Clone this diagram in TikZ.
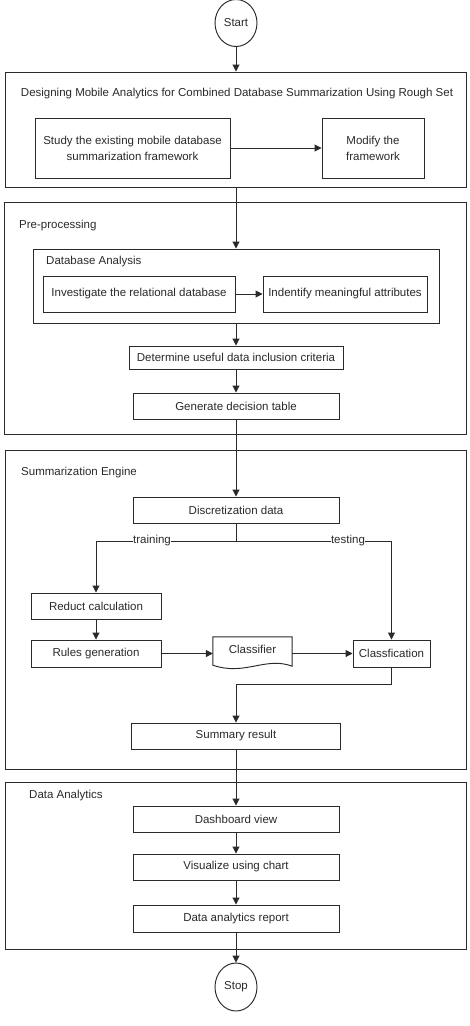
\documentclass[tikz,border=0pt]{standalone}
\usepackage{fontspec}
\setmainfont{Liberation Sans}
\usetikzlibrary{arrows.meta,shapes.geometric,calc}
\definecolor{ink}{HTML}{2A2A2A}
\begin{document}
\begin{tikzpicture}[x=1pt,y=-1pt,
  every node/.style={font=\fontsize{11.5}{16}\selectfont, text=ink},
  box/.style={draw=ink, line width=0.95pt, inner sep=0pt, align=center},
  grp/.style={draw=ink, line width=0.95pt, inner sep=0pt},
  term/.style={draw=ink, line width=0.95pt, ellipse, inner sep=0pt, minimum width=42pt, minimum height=47pt},
  arr/.style={draw=ink, line width=0.95pt, -{Triangle[length=7pt,width=7pt]}},
  ln/.style={draw=ink, line width=0.95pt},
  lbl/.style={anchor=west, inner sep=0pt},
  lab/.style={fill=white, inner sep=0.5pt}]
\useasboundingbox (0,0) rectangle (469,1026);
\fill[white] (0,0) rectangle (469,1026);

% Start
\node[term] (start) at (236,23) {Start};

% Group 1
\node[grp, minimum width=461pt, minimum height=115pt] (g1) at (236,129.5) {};
\node[inner sep=0pt] (g1lbl) at (237,94) {Designing Mobile Analytics for Combined Database Summarization Using Rough Set};
\node[box, minimum width=195pt, minimum height=60pt] (study) at (132.5,148) {Study the existing mobile database\\summarization framework};
\node[box, minimum width=102pt, minimum height=60pt] (modify) at (373,148) {Modify the\\framework};

% Group 2: Pre-processing
\node[grp, minimum width=462pt, minimum height=232pt] (g2) at (235,318) {};
\node[lbl] (g2lbl) at (19,226) {Pre-processing};
\node[grp, minimum width=406pt, minimum height=74pt] (dba) at (236,286) {};
\node[lbl] (dbalbl) at (46,262) {Database Analysis};
\node[box, minimum width=192pt, minimum height=36pt] (inv) at (139,294) {Investigate the relational database};
\node[box, minimum width=164pt, minimum height=36pt] (ind) at (345,294) {Indentify meaningful attributes};
\node[box, minimum width=214pt, minimum height=23pt] (det) at (236,357.5) {Determine useful data inclusion criteria};
\node[box, minimum width=206pt, minimum height=26pt] (gen) at (236,406) {Generate decision table};

% Group 3: Summarization Engine
\node[grp, minimum width=461pt, minimum height=319pt] (g3) at (236,609.5) {};
\node[lbl] (g3lbl) at (21,473) {Summarization Engine};
\node[box, minimum width=206pt, minimum height=26pt] (disc) at (236,510) {Discretization data};
\node[box, minimum width=130pt, minimum height=26pt] (reduct) at (96,606) {Reduct calculation};
\node[box, minimum width=130pt, minimum height=27pt] (rules) at (96,653.5) {Rules generation};
\node[inner sep=0pt, minimum width=79pt, minimum height=24pt] (cls) at (252.5,649) {Classifier};
\draw[ln] (cls.north west) -- (cls.north east) -- ($(cls.south east)+(0,5)$)
  .. controls ($(cls.south east)+(-27,-5)$) and ($(cls.south east)+(-47,15)$) .. ($(cls.south west)+(0,4)$) -- cycle;
\node[box, minimum width=77pt, minimum height=27pt] (clf) at (391.5,653.5) {Classfication};
\node[box, minimum width=209pt, minimum height=26pt] (sum) at (236,736) {Summary result};

% Group 4: Data Analytics
\node[grp, minimum width=461pt, minimum height=167pt] (g4) at (236,865.5) {};
\node[lbl] (g4lbl) at (29,796) {Data Analytics};
\node[box, minimum width=206pt, minimum height=26pt] (dash) at (236,819) {Dashboard view};
\node[box, minimum width=206pt, minimum height=26pt] (vis) at (236,867) {Visualize using chart};
\node[box, minimum width=206pt, minimum height=27pt] (rep) at (236,918.5) {Data analytics report};

% Stop
\node[term, minimum height=48pt] (stop) at (236,987) {Stop};

% Connectors
\draw[arr] (start.south) -- (g1.north);
\draw[arr] (study.east) -- (modify.west);
\draw[arr] (g1.south) -- (dba.north);
\draw[arr] (inv.east) -- (ind.west);
\draw[arr] (dba.south) -- (det.north);
\draw[arr] (det.south) -- (gen.north);
\draw[arr] (gen.south) -- (disc.north);

\coordinate (br) at (236,541);
\coordinate (bl) at (96,541);
\coordinate (brr) at (391.5,541);
\coordinate (mid) at (236,684);
\draw[ln] (disc.south) -- (br);
\draw[arr] (br) -- node[lab,pos=0.6] (tr) {training} (bl) -- (reduct.north);
\draw[arr] (br) -- node[lab,pos=0.72] (te) {testing} (brr) -- (clf.north);
\draw[arr] (reduct.south) -- (rules.north);
\draw[arr] (rules.east) -- (rules.east -| cls.west);
\draw[arr] (cls.east |- clf.west) -- (clf.west);
\draw[arr] (clf.south) |- (mid) -- (sum.north);
\draw[arr] (sum.south) -- (dash.north);
\draw[arr] (dash.south) -- (vis.north);
\draw[arr] (vis.south) -- (rep.north);
\draw[arr] (rep.south) -- (stop.north);
\end{tikzpicture}
\end{document}
